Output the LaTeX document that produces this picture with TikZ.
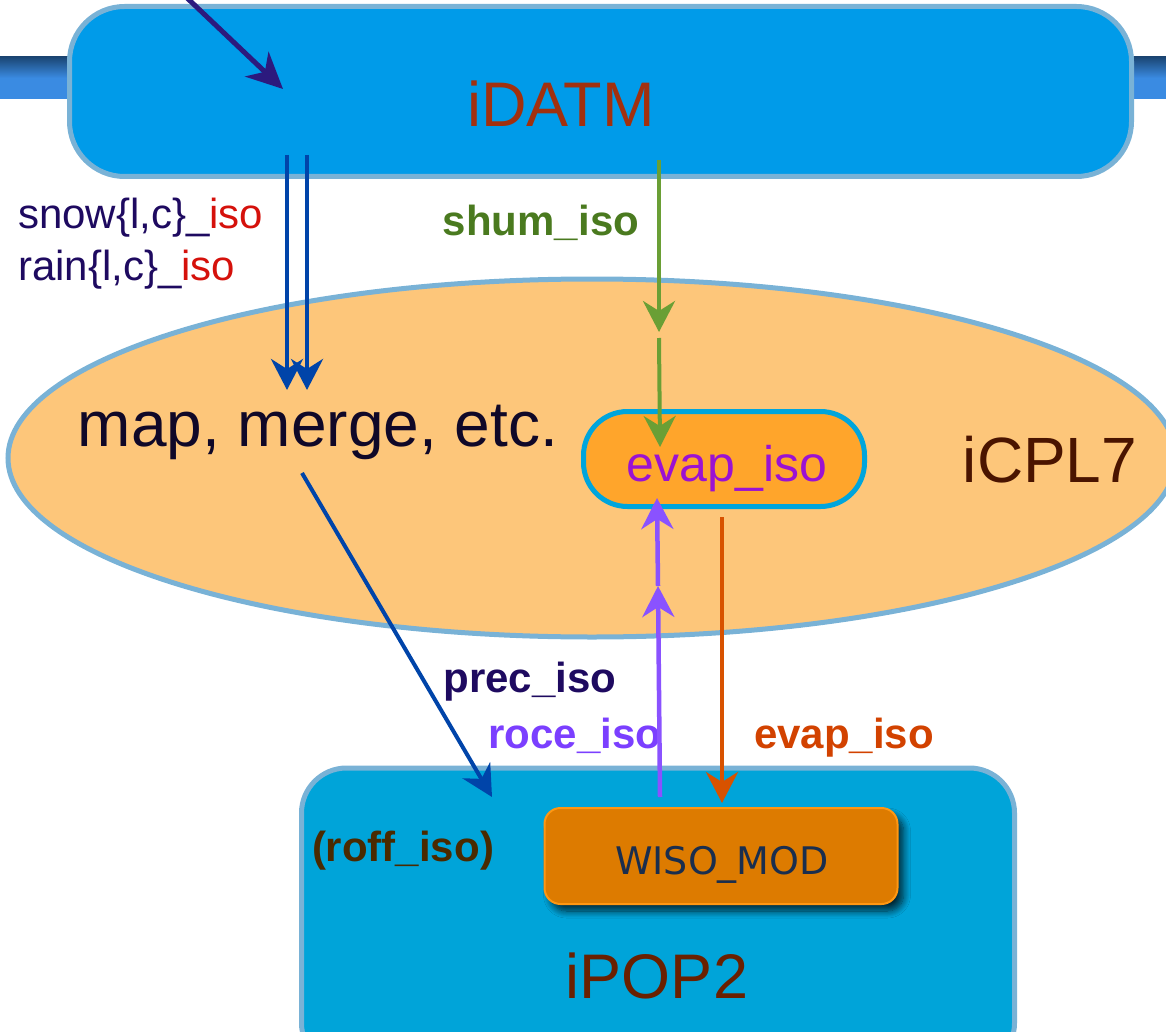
\documentclass[tikz,border=0pt]{standalone}
\usepackage{fontspec}
\setmainfont{Liberation Sans}
\newfontfamily\wisofont{DejaVu Sans}
\usetikzlibrary{shapes.geometric,arrows.meta,shadows.blur}

\definecolor{bandtop}{HTML}{1B4674}
\definecolor{bandlow}{HTML}{3A8BE2}
\definecolor{datmfill}{HTML}{009BE9}
\definecolor{rimblue}{HTML}{79B2D6}
\definecolor{datmtext}{HTML}{A2300E}
\definecolor{cplfill}{HTML}{FDC67A}
\definecolor{cpltext}{HTML}{4A1400}
\definecolor{evapfill}{HTML}{FFA52B}
\definecolor{evaprim}{HTML}{00A5DC}
\definecolor{evaptext}{HTML}{9B12D2}
\definecolor{popfill}{HTML}{00A4D9}
\definecolor{poptext}{HTML}{6A2000}
\definecolor{wisofill}{HTML}{DD7B00}
\definecolor{wisorim}{HTML}{FF9712}
\definecolor{wisotext}{HTML}{1A2E4E}
\definecolor{inkpurple}{HTML}{1E0A60}
\definecolor{isored}{HTML}{D5110B}
\definecolor{precblue}{HTML}{0044A9}
\definecolor{topdark}{HTML}{2C1A7E}
\definecolor{shumgreen}{HTML}{4A7A1F}
\definecolor{arrgreen}{HTML}{6A9F35}
\definecolor{rocepurple}{HTML}{7B3FFF}
\definecolor{arrpurple}{HTML}{8A52FF}
\definecolor{evaporange}{HTML}{D24200}
\definecolor{arrorange}{HTML}{D85200}
\definecolor{roffbrown}{HTML}{4A2A00}
\definecolor{mergeink}{HTML}{100828}

\tikzset{
  compbox/.style={draw=rimblue, line width=5pt, rounded corners=#1, inner sep=0pt},
  flow/.style={line width=4.5pt, -{Stealth[length=31pt,width=32pt,inset=10pt]}},
  tag/.style={font=\fontsize{42}{50}\selectfont\bfseries, inner sep=0pt, anchor=base},
}

\begin{document}
\begin{tikzpicture}[x=1pt,y=-1pt]
\useasboundingbox (0,0) rectangle (1166,1032);
\clip (0,0) rectangle (1166,1032);

% coupler band behind the atmosphere box
\shade[top color=bandtop, bottom color=bandlow, middle color=bandlow]
  (0,57) rectangle (1166,99);

% component boxes
\node[compbox=55pt, fill=datmfill, minimum width=1062pt, minimum height=170pt]
  (idatm) at (600.5,91.5) {};
\node[font=\fontsize{63}{76}\selectfont, text=datmtext, anchor=base]
  (idatmlbl) at (561,127) {iDATM};

\node[ellipse, draw=rimblue, line width=5pt, fill=cplfill,
      minimum width=1168pt, minimum height=358pt, inner sep=0pt]
  (icpl) at (592,458) {};
\node[font=\fontsize{64}{76}\selectfont, text=cpltext, anchor=base]
  (icpllbl) at (1050,482) {iCPL7};
\node[font=\fontsize{64}{76}\selectfont, text=mergeink, anchor=base]
  (merge) at (318,446) {map, merge, etc.};

\node[compbox=44pt, draw=evaprim, fill=evapfill, minimum width=281pt, minimum height=95pt]
  (evapbox) at (724,459) {};
\node[font=\fontsize{50}{60}\selectfont, text=evaptext, anchor=base]
  (evaplbl) at (727,481) {evap\_iso};

\node[compbox=45pt, fill=popfill, minimum width=713pt, minimum height=300pt]
  (ipop) at (658,918) {};
\node[font=\fontsize{63}{76}\selectfont, text=poptext, anchor=base]
  (ipoplbl) at (657,998) {iPOP2};

\node[draw=wisorim, line width=2pt, fill=wisofill, rounded corners=16pt,
      minimum width=353pt, minimum height=96pt, inner sep=0pt,
      blur shadow={shadow xshift=6pt, shadow yshift=-7pt, shadow blur radius=7pt,
                   shadow blur steps=10, shadow opacity=75}]
  (wiso) at (721,856) {};
\node[font=\wisofont\fontsize{38}{46}\selectfont, text=wisotext, anchor=base]
  (wisolbl) at (722,874) {WISO\_MOD};

% field labels
\node[font=\fontsize{42}{50}\selectfont, text=inkpurple, anchor=base west, inner sep=0pt]
  (snowlbl) at (18,229) {snow\{l,c\}\_\textcolor{isored}{iso}};
\node[font=\fontsize{42}{50}\selectfont, text=inkpurple, anchor=base west, inner sep=0pt]
  (rainlbl) at (18,280) {rain\{l,c\}\_\textcolor{isored}{iso}};
\node[tag, text=shumgreen] (shumlbl) at (541,236) {shum\_iso};
\node[tag, text=inkpurple]  (preclbl) at (530,692) {prec\_iso};
\node[tag, text=rocepurple] (rocelbl) at (575,748) {roce\_iso};
\node[tag, text=evaporange] (evaplbl2) at (844,748) {evap\_iso};
\node[tag, text=roffbrown]  (rofflbl) at (403,861) {(roff\_iso)};

% connector end points
\coordinate (topin)   at (185,-4);
\coordinate (topend)  at (283,89);
\coordinate (snowout) at (287,155);
\coordinate (rainout) at (307,155);
\coordinate (snowin)  at (287,390);
\coordinate (rainin)  at (307,390);
\coordinate (shumout) at (659,160);
\coordinate (shummid) at (659,332);
\coordinate (shumgo)  at (659,338);
\coordinate (shumin)  at (660,447);
\coordinate (precout) at (302,473);
\coordinate (precin)  at (492,797);
\coordinate (roceout) at (660,797);
\coordinate (rocemid) at (658,586);
\coordinate (rocein)  at (657,498);
\coordinate (evapout) at (722,517);
\coordinate (evapin)  at (722,803);

% connectors
\draw[flow, draw=topdark, line width=5pt, -{Stealth[length=36pt,width=34pt,inset=11pt]}]
  (topin) -- (topend);
\draw[flow, draw=precblue] (snowout) -- (snowin);
\draw[flow, draw=precblue] (rainout) -- (rainin);
\draw[flow, draw=arrgreen, line width=4pt] (shumout) -- (shummid);
\draw[flow, draw=arrgreen, line width=4pt] (shumgo) -- (shumin);
\draw[flow, draw=precblue, line width=4pt] (precout) -- (precin);
\draw[flow, draw=arrpurple] (roceout) -- (rocemid);
\draw[flow, draw=arrpurple] (rocemid) -- (rocein);
\draw[flow, draw=arrorange, line width=4pt] (evapout) -- (evapin);
\end{tikzpicture}
\end{document}
